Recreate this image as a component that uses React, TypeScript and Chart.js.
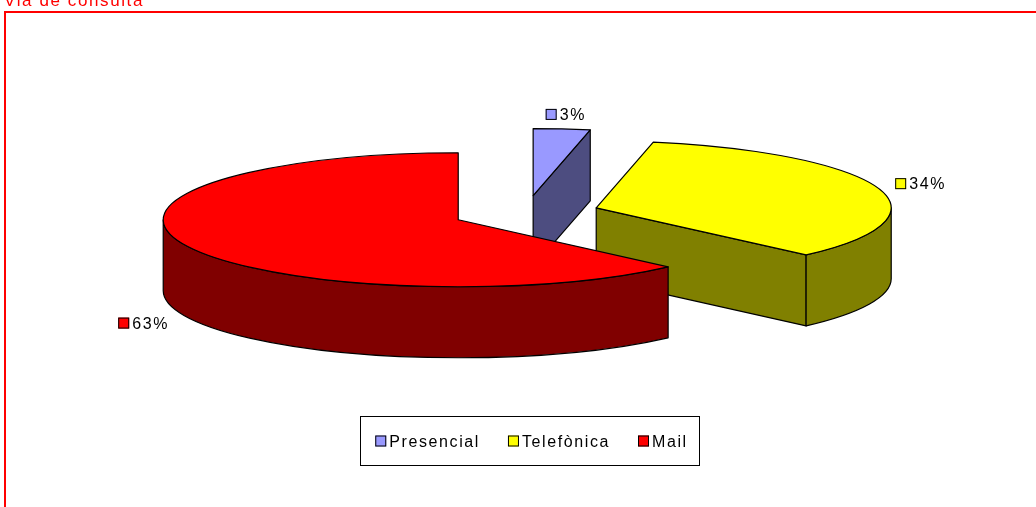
import React, { useEffect, useRef } from "react";
import { Chart, registerables } from "chart.js";

Chart.register(...registerables);

// ---- data ----
const categories = ["Presencial", "Telefònica", "Mail"];
const values = [3.1, 34.3, 62.6];
const topColors = ["#9999FF", "#FFFF00", "#FF0000"];
const sideColors = ["#4D4D80", "#808000", "#800000"];
const titleText = "Via de consulta";

// ---- style ----
const FONT_FAMILY = '"Liberation Sans", Arial, sans-serif';
const TEXT_SPACING = "1.6px";

function setSpacing(ctx: any, v: string) {
  try {
    ctx.letterSpacing = v;
  } catch (e) {}
}

const pie3d = {
  id: "pie3d",
  beforeDatasetsDraw(chart: any) {
    const ctx = chart.ctx;
    const meta = chart.getDatasetMeta(0);
    const arcs = meta.data;
    if (!arcs.length) return false;
    const R = arcs[0].outerRadius;
    const cx = arcs[0].x;
    const cy = arcs[0].y;
    const rx = R * 1.385;
    const ry = R * 0.3146;
    const depth = R * 0.3333;
    const ex = rx * 0.249;
    const ey = ry * 0.261;
    const slices = arcs.map((a: any, i: number) => {
      const s = a.startAngle;
      const e = a.endAngle;
      const m = (s + e) / 2;
      return { i, s, e, m, ax: cx + ex * Math.cos(m), ay: cy + ey * Math.sin(m) };
    });
    chart.$pie3d = { rx, ry, depth, slices };
    const order = [...slices].sort((p: any, q: any) => p.ay - q.ay);
    ctx.save();
    ctx.lineWidth = 1.2;
    ctx.strokeStyle = "#000";
    ctx.lineJoin = "round";
    for (const sl of order) {
      const { ax, ay, s, e, i } = sl;
      const side = sideColors[i];
      const top = topColors[i];
      const face = (ang: number) => {
        const px = ax + rx * Math.cos(ang);
        const py = ay + ry * Math.sin(ang);
        ctx.beginPath();
        ctx.moveTo(ax, ay);
        ctx.lineTo(px, py);
        ctx.lineTo(px, py + depth);
        ctx.lineTo(ax, ay + depth);
        ctx.closePath();
        ctx.fillStyle = side;
        ctx.fill();
        ctx.stroke();
      };
      if (Math.cos(s) < -1e-6) face(s);
      if (Math.cos(e) > 1e-6) face(e);
      // rim walls (front half)
      for (let k = -1; k <= 1; k++) {
        const lo = Math.max(s, 2 * Math.PI * k);
        const hi = Math.min(e, 2 * Math.PI * k + Math.PI);
        if (hi - lo > 1e-6) {
          ctx.beginPath();
          ctx.moveTo(ax + rx * Math.cos(lo), ay + ry * Math.sin(lo));
          ctx.ellipse(ax, ay, rx, ry, 0, lo, hi, false);
          ctx.lineTo(ax + rx * Math.cos(hi), ay + ry * Math.sin(hi) + depth);
          ctx.ellipse(ax, ay + depth, rx, ry, 0, hi, lo, true);
          ctx.closePath();
          ctx.fillStyle = side;
          ctx.fill();
          ctx.stroke();
        }
      }
      // top face
      ctx.beginPath();
      ctx.moveTo(ax, ay);
      ctx.ellipse(ax, ay, rx, ry, 0, s, e, false);
      ctx.closePath();
      ctx.fillStyle = top;
      ctx.fill();
      ctx.stroke();
    }
    ctx.restore();
    return false;
  },
  afterDraw(chart: any) {
    const ctx = chart.ctx;
    const info = chart.$pie3d;
    ctx.save();
    // outer red frame
    ctx.strokeStyle = "#FF0000";
    ctx.lineWidth = 2;
    ctx.strokeRect(5, 12, 1200, 700);
    // title
    ctx.fillStyle = "#FF0000";
    ctx.font = "17px " + FONT_FAMILY;
    setSpacing(ctx, TEXT_SPACING);
    ctx.textBaseline = "alphabetic";
    ctx.textAlign = "left";
    ctx.fillText(titleText, 4, 5.5);

    ctx.font = "16px " + FONT_FAMILY;
    ctx.lineWidth = 1;
    ctx.strokeStyle = "#000";
    const total = values.reduce((a, b) => a + b, 0);
    const drawItem = (x: number, yc: number, color: string, text: string) => {
      ctx.fillStyle = color;
      ctx.fillRect(x, yc - 5, 11, 11);
      ctx.strokeRect(x + 0.5, yc - 5 + 0.5, 10, 10);
      ctx.fillStyle = "#000";
      ctx.fillText(text, x + 14, yc + 6);
    };
    const itemWidth = (text: string) => 14 + ctx.measureText(text).width;

    // data labels
    if (info) {
      const { rx, ry, depth, slices } = info;
      for (const sl of slices) {
        const txt = Math.round((values[sl.i] / total) * 100) + "%";
        const w = itemWidth(txt) - 2;
        const px = sl.ax + rx * Math.cos(sl.m);
        const py = sl.ay + ry * Math.sin(sl.m);
        const c = Math.cos(sl.m);
        let x: number;
        let y: number;
        if (Math.abs(c) < 0.3) {
          x = px + 3 - w / 2;
          y = py - 15;
        } else {
          x = c > 0 ? px + 17 : px - 19 - w;
          y = py + (Math.sin(sl.m) > 0 ? depth + 6 : -5);
        }
        drawItem(x, y, topColors[sl.i], txt);
      }
    }

    // legend
    const gap = 28;
    const widths = categories.map((t) => itemWidth(t));
    const totalW = widths.reduce((a, b) => a + b, 0) + gap * (categories.length - 1);
    const boxL = 360;
    const boxR = 699;
    const boxT = 416;
    const boxB = 465;
    ctx.strokeStyle = "#000";
    ctx.strokeRect(boxL + 0.5, boxT + 0.5, boxR - boxL, boxB - boxT);
    let lx = (boxL + boxR) / 2 + 2 - totalW / 2;
    const ly = (boxT + boxB) / 2;
    categories.forEach((t, i) => {
      drawItem(lx, ly, topColors[i], t);
      lx += widths[i] + gap;
    });
    ctx.restore();
  },
};

export default function App() {
  const ref = useRef<HTMLCanvasElement | null>(null);
  useEffect(() => {
    if (!ref.current) return;
    const chart = new Chart(ref.current, {
      type: "pie",
      data: {
        labels: categories,
        datasets: [
          {
            data: values,
            backgroundColor: topColors,
            borderWidth: 0,
            hoverOffset: 0,
            offset: 0,
          },
        ],
      },
      options: {
        responsive: false,
        animation: false,
        events: [],
        layout: { padding: { left: 16, right: 0, top: 0, bottom: 81 } },
        plugins: {
          legend: { display: false },
          title: { display: false },
          tooltip: { enabled: false },
        },
      },
      plugins: [pie3d],
    } as any);
    return () => chart.destroy();
  }, []);
  return (
    <div style={{ position: "fixed", left: 0, top: 0, width: 1036, height: 507, background: "#fff" }}>
      <canvas ref={ref} width={1036} height={507} style={{ display: "block" }} />
    </div>
  );
}
